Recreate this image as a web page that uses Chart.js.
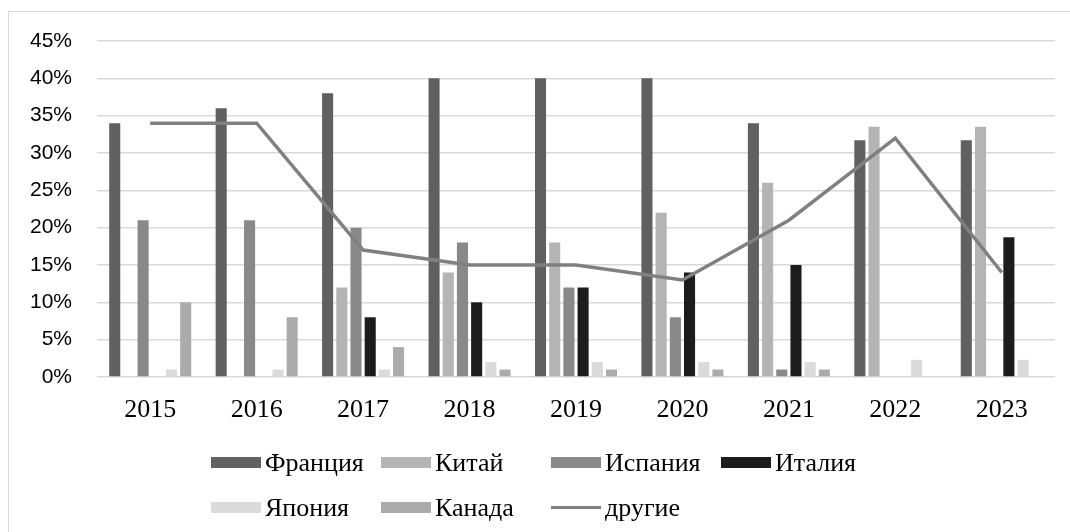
<!DOCTYPE html>
<html>
<head>
<meta charset="utf-8">
<script src="https://cdn.jsdelivr.net/npm/chart.js@4/dist/chart.umd.min.js"></script>
<style>
  html, body { margin: 0; padding: 0; background: #fff; }
  #wrap { position: relative; width: 1070px; height: 532px; overflow: hidden; }
  #cadre { position: absolute; left: 8px; top: 11px; width: 1100px; height: 600px; border: 1px solid #d9d9d9; }
  canvas { position: absolute; left: 0; top: 0; }
  #legende { position: absolute; left: 211px; top: 440px; display: grid; grid-template-columns: repeat(4, 170px); grid-auto-rows: 45px; font-family: "Liberation Serif", serif; font-size: 26px; color: #000; }
  .item { display: flex; align-items: center; white-space: nowrap; }
  .carre { width: 50px; height: 11px; margin-right: 4px; flex: none; }
  .trait { width: 50px; height: 3px; margin-right: 4px; flex: none; }
</style>
</head>
<body>
<div id="wrap">
  <div id="cadre"></div>
  <canvas id="graphique" width="1070" height="532"></canvas>
  <div id="legende"></div>
</div>
<script>
const annees = ['2015', '2016', '2017', '2018', '2019', '2020', '2021', '2022', '2023'];
const graduations = [0, 5, 10, 15, 20, 25, 30, 35, 40, 45];

// parts en %
const france = [34, 36, 38, 40, 40, 40, 34, 31.7, 31.7];
const chine = [null, null, 12, 14, 18, 22, 26, 33.5, 33.5];
const espagne = [21, 21, 20, 18, 12, 8, 1, null, null];
const italie = [null, null, 8, 10, 12, 14, 15, null, 18.7];
const japon = [1, 1, 1, 2, 2, 2, 2, 2.3, 2.3];
const canada = [10, 8, 4, 1, 1, 1, 1, null, null];
const autres = [34, 34, 17, 15, 15, 13, 21, 32, 14];

const series = [
  { label: 'Франция', data: france, couleur: '#606060' },
  { label: 'Китай', data: chine, couleur: '#b4b4b4' },
  { label: 'Испания', data: espagne, couleur: '#898989' },
  { label: 'Италия', data: italie, couleur: '#1c1c1c' },
  { label: 'Япония', data: japon, couleur: '#dadada' },
  { label: 'Канада', data: canada, couleur: '#ababab' }
];

const datasets = series.map(s => ({
  type: 'bar',
  label: s.label,
  data: s.data,
  backgroundColor: s.couleur,
  borderWidth: 0,
  categoryPercentage: 0.8,
  barPercentage: 0.78,
  order: 1
}));

datasets.push({
  type: 'line',
  label: 'другие',
  data: autres,
  borderColor: '#808080',
  borderWidth: 3.5,
  pointRadius: 0,
  tension: 0,
  fill: false,
  order: 0
});

const ctx = document.getElementById('graphique').getContext('2d');
const monGraphique = new Chart(ctx, {
  type: 'bar',
  data: { labels: annees, datasets: datasets },
  options: {
    responsive: false,
    animation: false,
    layout: { padding: { left: 0, right: 15, top: 41, bottom: 95 } },
    plugins: { legend: { display: false }, tooltip: { enabled: false } },
    scales: {
      x: {
        grid: { display: false, drawTicks: false },
        border: { display: false },
        ticks: { color: '#000', padding: 18, font: { family: 'Liberation Serif', size: 26 } },
        afterFit: scale => { scale.height = 60; }
      },
      y: {
        min: graduations[0],
        max: graduations[graduations.length - 1],
        afterBuildTicks: scale => { scale.ticks = graduations.map(v => ({ value: v })); },
        grid: { color: '#d9d9d9', lineWidth: 1.5, drawTicks: false },
        border: { display: false },
        ticks: {
          color: '#000',
          padding: 25,
          font: { family: 'Liberation Sans', size: 21 },
          callback: v => v + '%'
        },
        afterFit: scale => { scale.width = 97; }
      }
    }
  }
});

// légende en colonnes comme dans l'original
const legende = document.getElementById('legende');
monGraphique.data.datasets.forEach(ds => {
  const item = document.createElement('div');
  item.className = 'item';
  const marque = document.createElement('span');
  if (ds.type === 'line') {
    marque.className = 'trait';
    marque.style.background = ds.borderColor;
  } else {
    marque.className = 'carre';
    marque.style.background = ds.backgroundColor;
  }
  item.appendChild(marque);
  item.appendChild(document.createTextNode(ds.label));
  legende.appendChild(item);
});
</script>
</body>
</html>
